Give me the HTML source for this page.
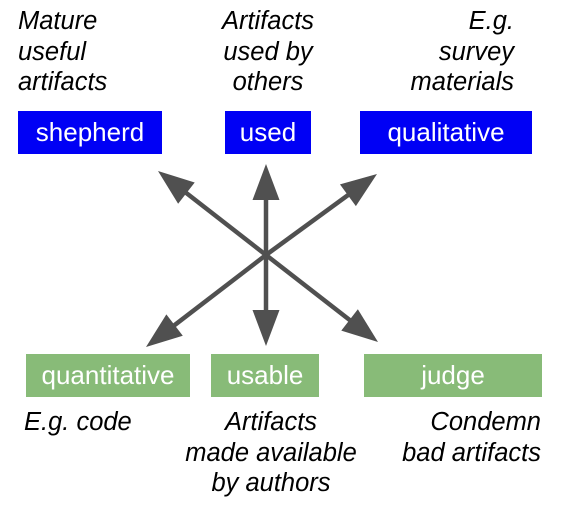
<!DOCTYPE html>
<html><head><style>
body{margin:0;width:565px;height:505px;background:#fff;position:relative;font-family:"Liberation Sans",Arial,sans-serif;overflow:hidden}
.t{position:absolute;font-style:italic;font-size:25.5px;line-height:30.5px;color:#000}
.b{position:absolute;color:#fff;font-size:26px;display:flex;align-items:center;justify-content:center;height:43px}
.bl{background:#0000f5;top:111px}
.gr{background:#88bb78;top:354px}
</style></head><body>
<div class="t" style="left:18px;top:6px">Mature<br>useful<br>artifacts</div>
<div class="t" style="left:168px;width:200px;top:6px;text-align:center">Artifacts<br>used by<br>others</div>
<div class="t" style="left:314px;width:200px;top:6px;text-align:right">E.g.<br>survey<br>materials</div>
<div class="b bl" style="left:18px;width:144px">shepherd</div>
<div class="b bl" style="left:225px;width:86px">used</div>
<div class="b bl" style="left:360px;width:172px">qualitative</div>
<div class="b gr" style="left:26px;width:164px">quantitative</div>
<div class="b gr" style="left:211px;width:108px">usable</div>
<div class="b gr" style="left:364px;width:178px">judge</div>
<div class="t" style="left:24px;top:407px">E.g. code</div>
<div class="t" style="left:121px;width:300px;top:407px;text-align:center">Artifacts<br>made available<br>by authors</div>
<div class="t" style="left:291px;width:250px;top:407px;text-align:right">Condemn<br>bad artifacts</div>
<svg id="s" width="565" height="505" style="position:absolute;left:0;top:0"></svg>
<script>
var cx=266,cy=255,tips=[[158,171],[266,164],[377,174],[146,347],[266,346],[378,342]],h='';
tips.forEach(function(t){var dx=t[0]-cx,dy=t[1]-cy,L=Math.hypot(dx,dy),ux=dx/L,uy=dy/L,px=-uy,py=ux,bx=t[0]-ux*36,by=t[1]-uy*36;
h+='<line x1="'+cx+'" y1="'+cy+'" x2="'+(bx+ux*4)+'" y2="'+(by+uy*4)+'" stroke="#505050" stroke-width="4.5"/>';
h+='<polygon fill="#505050" points="'+t[0]+','+t[1]+' '+(bx+px*13.5)+','+(by+py*13.5)+' '+(bx-px*13.5)+','+(by-py*13.5)+'"/>';});
document.getElementById('s').innerHTML=h;
</script>
</body></html>
